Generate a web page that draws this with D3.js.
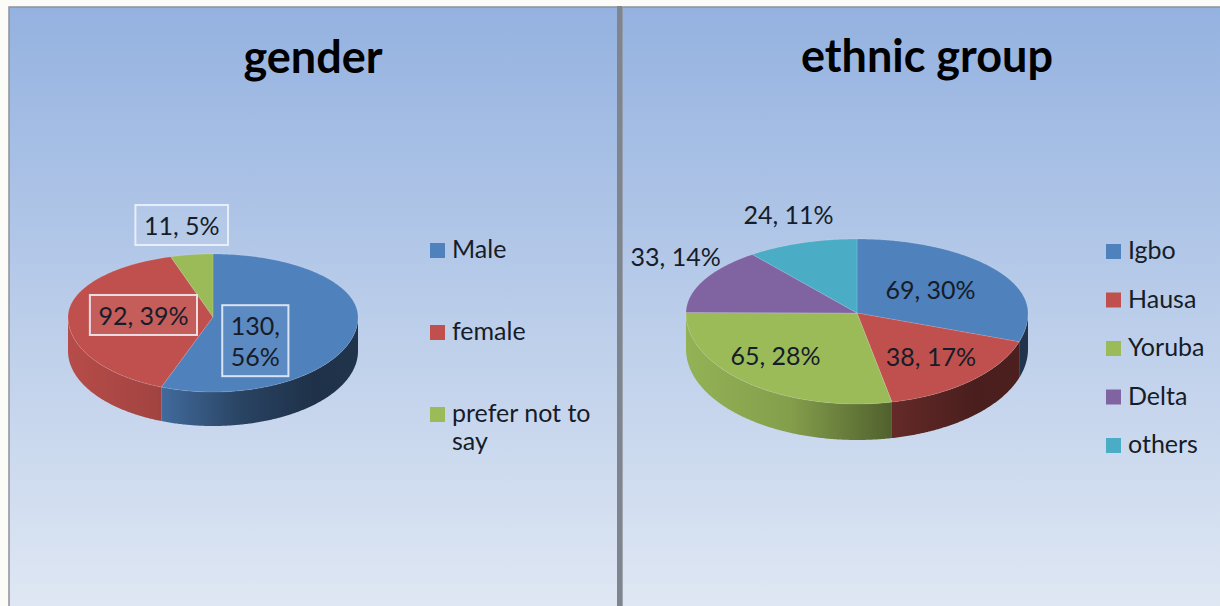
<!DOCTYPE html>
<html>
<head>
<meta charset="utf-8">
<script src="https://cdn.jsdelivr.net/npm/d3@7"></script>
<style>
  html, body { margin: 0; padding: 0; background: #fbfbf8; }
  svg { display: block; }
  text { font-family: Lato, "Open Sans", sans-serif; }
</style>
</head>
<body>
<svg id="chart" width="1220" height="606"></svg>
<script>
// ---------------- data ----------------
const genderTitle = "gender";
const genderCategories = ["Male", "female", "prefer not to say"];
const genderValues = [130, 92, 11];
const genderPercents = [56, 39, 5];

const ethnicTitle = "ethnic group";
const ethnicCategories = ["Igbo", "Hausa", "Yoruba", "Delta", "others"];
const ethnicValues = [69, 38, 65, 33, 24];
const ethnicPercents = [30, 17, 28, 14, 11];

const palette = ["#4f81bd", "#c0504d", "#9bbb59", "#8064a2", "#4bacc6"];

// ---------------- layout ----------------
const svg = d3.select("#chart");
const defs = svg.append("defs");

const bg = defs.append("linearGradient").attr("id", "bgGrad")
  .attr("x1", 0).attr("y1", 0).attr("x2", 0).attr("y2", 1);
bg.append("stop").attr("offset", 0).attr("stop-color", "#94b2e0");
bg.append("stop").attr("offset", 1).attr("stop-color", "#dfe7f3");

// panels
svg.append("rect").attr("x", 9).attr("y", 7).attr("width", 609).attr("height", 600)
  .attr("fill", "url(#bgGrad)").attr("stroke", "#8d939b").attr("stroke-width", 1.5);
svg.append("rect").attr("x", 622).attr("y", 7).attr("width", 600).attr("height", 600)
  .attr("fill", "url(#bgGrad)").attr("stroke", "#8d939b").attr("stroke-width", 1.5);
svg.append("rect").attr("x", 617).attr("y", 6).attr("width", 5).attr("height", 600)
  .attr("fill", "#7f858e");

const charts = [
  {
    title: genderTitle, categories: genderCategories, values: genderValues, percents: genderPercents,
    titleX: 313, titleY: 73,
    cx: 213, cy: 317, rx: 145, ryTop: 63, ryBot: 75, depth: 34,
    labelR: [0.44, 0.48, 1.46], labelTurn: [38, 0, 0], boxed: true, maxLabelW: 95,
    legendX: 430, legendRange: [258, 422], legendMaxW: 150
  },
  {
    title: ethnicTitle, categories: ethnicCategories, values: ethnicValues, percents: ethnicPercents,
    titleX: 927, titleY: 72,
    cx: 857, cy: 313, rx: 171, ryTop: 74, ryBot: 91, depth: 36,
    labelR: [0.53, 0.65, 0.67, 1.30, 1.38], labelTurn: [0, 0, 6, 9, 2], boxed: false, maxLabelW: 130,
    legendX: 1106, legendRange: [259, 453], legendMaxW: 120
  }
];

const shade = (c, k) => { const r = d3.rgb(c); return d3.rgb(r.r * k, r.g * k, r.b * k).formatHex(); };

charts.forEach((ch, ci) => {
  const g = svg.append("g");
  const color = d3.scaleOrdinal().domain(ch.categories).range(palette);
  const arcs = d3.pie().sort(null).value(d => d.value)(
    ch.categories.map((c, i) => ({ cat: c, value: ch.values[i], pct: ch.percents[i] }))
  );

  const pt = (a, r = 1, dy = 0) => [
    ch.cx + ch.rx * r * Math.sin(a),
    ch.cy - (Math.cos(a) > 0 ? ch.ryTop : ch.ryBot) * r * Math.cos(a) + dy
  ];
  const samples = (a0, a1, r = 1, dy = 0) => {
    const n = Math.max(2, Math.ceil((a1 - a0) / 0.01));
    return d3.range(n + 1).map(i => pt(a0 + (a1 - a0) * i / n, r, dy));
  };
  const line = d3.line();

  // side gradients
  ch.categories.forEach((c, i) => {
    const gr = defs.append("linearGradient").attr("id", `side${ci}_${i}`)
      .attr("gradientUnits", "userSpaceOnUse")
      .attr("x1", ch.cx - ch.rx).attr("x2", ch.cx + ch.rx).attr("y1", 0).attr("y2", 0);
    [[0, 0.95], [0.3, 0.85], [0.6, 0.52], [0.85, 0.38], [1, 0.4]].forEach(([o, k]) =>
      gr.append("stop").attr("offset", o).attr("stop-color", shade(color(c), k)));
  });

  // side walls (front half only)
  arcs.forEach((d, i) => {
    const s = Math.max(d.startAngle, Math.PI / 2), e = Math.min(d.endAngle, 3 * Math.PI / 2);
    if (e <= s) return;
    const pts = samples(s, e).concat(samples(s, e, 1, ch.depth).reverse());
    g.append("path").attr("d", line(pts) + "Z")
      .attr("fill", `url(#side${ci}_${i})`);
  });

  // top faces
  arcs.forEach(d => {
    const pts = [[ch.cx, ch.cy]].concat(samples(d.startAngle, d.endAngle));
    g.append("path").attr("d", line(pts) + "Z")
      .attr("fill", color(d.data.cat))
      .attr("stroke", "rgba(255,255,255,0.18)").attr("stroke-width", 0.8)
      .attr("stroke-linejoin", "round");
  });

  // title
  g.append("text").attr("x", ch.titleX).attr("y", ch.titleY)
    .attr("text-anchor", "middle").attr("font-size", 45).attr("font-weight", 700)
    .attr("fill", "#000").text(ch.title);

  // data labels
  const fs = 25, lh = 31;
  arcs.forEach((d, i) => {
    const a = (d.startAngle + d.endAngle) / 2 + ch.labelTurn[i] * Math.PI / 180;
    const [lx, ly] = pt(a, ch.labelR[i]);
    const full = `${d.data.value}, ${d.data.pct}%`;
    const lg = g.append("g");
    const t = lg.append("text").attr("text-anchor", "middle").attr("font-size", fs).attr("fill", "#161c28");
    // wrap
    const words = full.split(" ");
    let lines = [], cur = "";
    const probe = t.append("tspan");
    words.forEach(w => {
      const test = cur ? cur + " " + w : w;
      probe.text(test);
      if (probe.node().getComputedTextLength() > ch.maxLabelW && cur) { lines.push(cur); cur = w; }
      else cur = test;
    });
    lines.push(cur);
    probe.remove();
    lines.forEach((ln, k) => {
      t.append("tspan").attr("x", lx)
        .attr("y", ly + (k - (lines.length - 1) / 2) * lh + 9).text(ln);
    });
    if (ch.boxed) {
      const bb = t.node().getBBox();
      lg.insert("rect", "text")
        .attr("x", bb.x - 8.5).attr("y", bb.y - 5)
        .attr("width", bb.width + 17).attr("height", bb.height + 10)
        .attr("fill", "rgba(255,255,255,0.08)")
        .attr("stroke", "rgba(240,245,252,0.85)").attr("stroke-width", 2);
    }
  });

  // legend
  const ly = d3.scalePoint().domain(ch.categories).range(ch.legendRange);
  ch.categories.forEach(c => {
    const y = ly(c);
    g.append("rect").attr("x", ch.legendX).attr("y", y - 15).attr("width", 15).attr("height", 15)
      .attr("fill", color(c));
    const t = g.append("text").attr("font-size", 25).attr("fill", "#161c28");
    const words = c.split(" ");
    let lines = [], cur = "";
    const probe = t.append("tspan");
    words.forEach(w => {
      const test = cur ? cur + " " + w : w;
      probe.text(test);
      if (probe.node().getComputedTextLength() > ch.legendMaxW && cur) { lines.push(cur); cur = w; }
      else cur = test;
    });
    lines.push(cur);
    probe.remove();
    lines.forEach((ln, k) => {
      t.append("tspan").attr("x", ch.legendX + 22).attr("y", y + k * 28).text(ln);
    });
  });
});
</script>
</body>
</html>
